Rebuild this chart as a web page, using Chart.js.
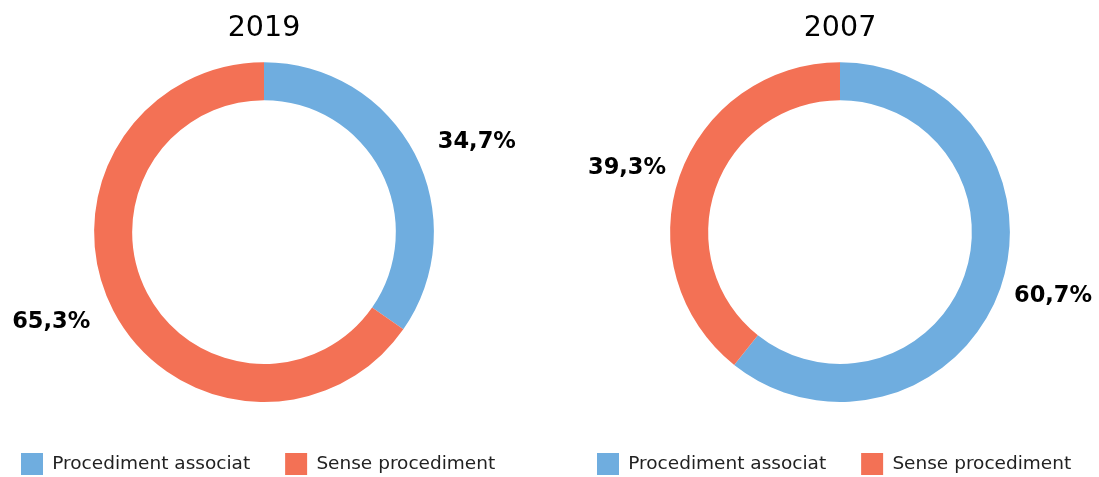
<!DOCTYPE html>
<html>
<head>
<meta charset="utf-8">
<script src="https://cdn.jsdelivr.net/npm/chart.js@4/dist/chart.umd.min.js"></script>
<style>
  html, body { margin: 0; padding: 0; background: #fff; overflow: hidden; }
  .wrap { position: absolute; top: 0; width: 528px; height: 490px; }
</style>
</head>
<body>
<div class="wrap" style="left:0"><canvas id="c2019"></canvas></div>
<div class="wrap" style="left:576px"><canvas id="c2007"></canvas></div>
<script>
const categories = ['Procediment associat', 'Sense procediment']
const values2019 = [34.7, 65.3]
const values2007 = [60.7, 39.3]
const colors = ['#6FADDF', '#F37155']

Chart.defaults.font.family = '"DejaVu Sans", Verdana, sans-serif'
Chart.defaults.color = '#000'

// percentage labels outside the ring
const outsideLabels = {
  id: 'outsideLabels',
  afterDatasetsDraw(chart) {
    const ctx = chart.ctx
    const meta = chart.getDatasetMeta(0)
    const data = chart.data.datasets[0].data
    ctx.save()
    ctx.font = 'bold 22.5px "DejaVu Sans", Verdana, sans-serif'
    ctx.fillStyle = '#000'
    ctx.textAlign = 'center'
    ctx.textBaseline = 'middle'
    meta.data.forEach((arc, i) => {
      const p = arc.getProps(['x', 'y', 'startAngle', 'endAngle'], true)
      const mid = (p.startAngle + p.endAngle) / 2
      const cx = Math.cos(mid), cy = Math.sin(mid)
      const x = p.x + Math.sign(cx) * Math.min(Math.abs(cx) * 240, 213)
      const y = p.y + cy * 195
      ctx.fillText(data[i].toFixed(1).replace('.', ',') + '%', x, y)
    })
    ctx.restore()
  }
}

function makeChart(id, title, values) {
  new Chart(document.getElementById(id), {
    type: 'doughnut',
    data: {
      labels: categories,
      datasets: [{
        data: values,
        backgroundColor: colors,
        borderWidth: 0,
        hoverOffset: 0
      }]
    },
    options: {
      responsive: true,
      maintainAspectRatio: false,
      animation: false,
      cutout: '77.6%',
      layout: { padding: { left: -14, right: -14, bottom: 5 } },
      plugins: {
        title: {
          display: true,
          text: title,
          font: { size: 28.5, weight: 'normal' },
          color: '#000',
          padding: { top: 11, bottom: 17 }
        },
        legend: {
          position: 'bottom',
          align: 'start',
          // empty legend title only adds space above the items
          title: { display: true, text: '', font: { size: 16, lineHeight: 1 }, padding: 0 },
          labels: {
            boxWidth: 22,
            boxHeight: 22,
            padding: 35,
            font: { size: 18.5 },
            color: '#222'
          }
        },
        tooltip: { enabled: false }
      }
    },
    plugins: [outsideLabels]
  })
}

makeChart('c2019', '2019', values2019)
makeChart('c2007', '2007', values2007)
</script>
</body>
</html>
